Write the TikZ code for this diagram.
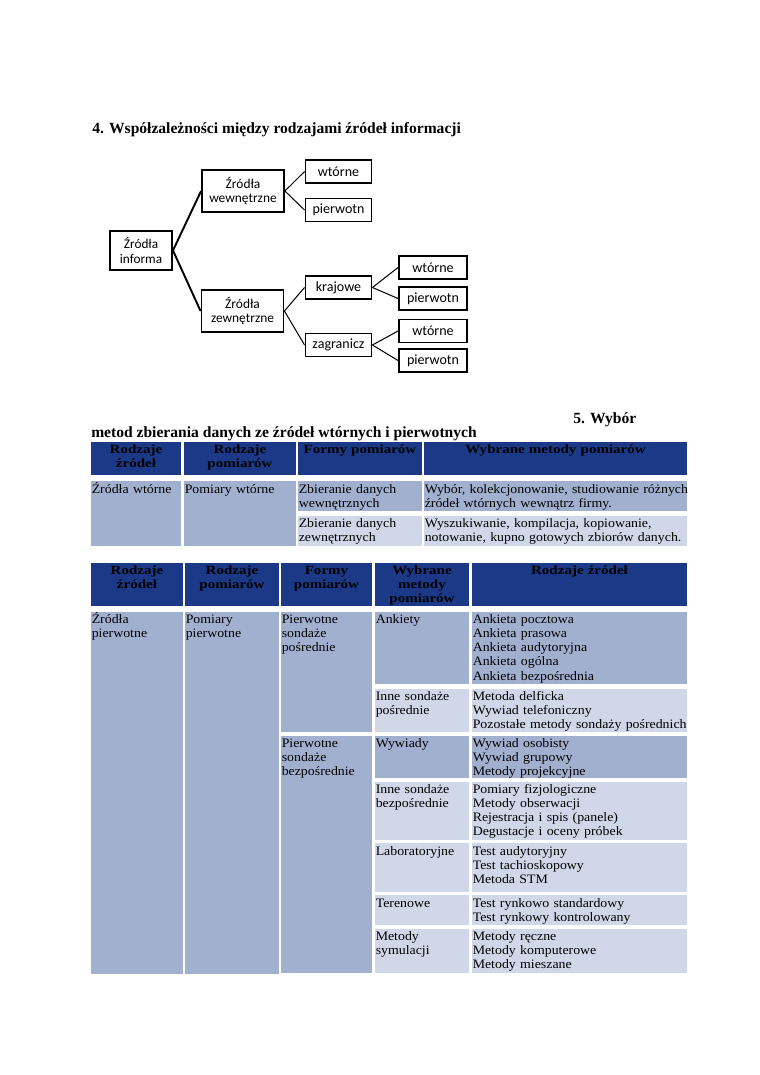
\documentclass[tikz,border=0pt]{standalone}
\usepackage{fontspec}
\setmainfont{Liberation Serif}
\newfontfamily\tabfont[FakeStretch=1.075]{Liberation Serif}
\newfontfamily\hdfont[FakeStretch=1.2]{Liberation Serif}
\newfontfamily\boxfont{Carlito}
\usepackage{tikz}

\definecolor{hdblue}{RGB}{27,57,135}
\definecolor{midblue}{RGB}{162,176,208}
\definecolor{lightblue}{RGB}{208,215,232}

\begin{document}
\begin{tikzpicture}[x=0.7833pt, y=-0.7833pt,
    box/.style={draw, line width=1.5pt, inner sep=0pt, align=center,
        font=\boxfont\fontsize{11}{12}\selectfont},
    bigbox/.style={box, minimum width=64.2pt, minimum height=32.9pt,
        font=\boxfont\fontsize{10.5}{11.7}\selectfont},
    smallbox/.style={box, minimum width=51.7pt, minimum height=18pt},
    title/.style={anchor=base west, inner sep=0pt,
        font=\bfseries\fontsize{12.2}{14}\selectfont},
    celltext/.style={anchor=base west, inner sep=0pt, align=left, text width=300pt,
        font=\tabfont\fontsize{10.1}{11.2}\selectfont},
    headtext/.style={anchor=base, inner sep=0pt, align=center, text width=200pt,
        font=\hdfont\bfseries\fontsize{9.8}{11.3}\selectfont}]
    \useasboundingbox (0,0) rectangle (760,1075);

    % Tree of sources
    \node[title] (t4) at (92,133) {4. Współzależności między rodzajami źródeł informacji};

    \node[box, minimum width=48.6pt, minimum height=30.5pt,
        font=\boxfont\fontsize{10.4}{12}\selectfont] (inf) at (141,250.5) {Źródła\\informa};
    \node[bigbox] (wew) at (243,191) {Źródła\\wewnętrzne};
    \node[bigbox] (zew) at (242.5,311) {Źródła\\zewnętrzne};
    \node[smallbox] (wew-w) at (338.5,171.5) {wtórne};
    \node[smallbox] (wew-p) at (338.5,210) {pierwotn};
    \node[smallbox] (kra) at (338.5,287.5) {krajowe};
    \node[smallbox] (zag) at (338.5,345) {zagranicz};
    \node[smallbox, minimum width=53.3pt] (kra-w) at (433,267.5) {wtórne};
    \node[smallbox, minimum width=53.3pt] (kra-p) at (433,298.5) {pierwotn};
    \node[smallbox, minimum width=53.3pt] (zag-w) at (433,331) {wtórne};
    \node[smallbox, minimum width=53.3pt] (zag-p) at (433,360.5) {pierwotn};

    % Connectors
    \draw[line width=1.5pt] (inf.east) -- (wew.west);
    \draw[line width=1.5pt] (inf.east) -- (zew.west);
    \draw[line width=0.8pt] (wew.east) -- (wew-w.west);
    \draw[line width=0.8pt] (wew.east) -- (wew-p.west);
    \draw[line width=0.8pt] (zew.east) -- (kra.west);
    \draw[line width=0.8pt] (zew.east) -- (zag.west);
    \draw[line width=0.8pt] (kra.east) -- (kra-w.west);
    \draw[line width=0.8pt] (kra.east) -- (kra-p.west);
    \draw[line width=0.8pt] (zag.east) -- (zag-w.west);
    \draw[line width=0.8pt] (zag.east) -- (zag-p.west);

    % Table of secondary sources
    \node[title] (t5) at (573,423) {5. Wybór};
    \node[title] (t5b) at (91,437) {metod zbierania danych ze źródeł wtórnych i pierwotnych};

    \fill[hdblue] (91,442) rectangle (181,475);
    \fill[hdblue] (184,442) rectangle (296,475);
    \fill[hdblue] (298,442) rectangle (422,475);
    \fill[hdblue] (424,442) rectangle (687,475);
    \node[headtext] (a-h1) at (136,453) {Rodzaje\\źródeł};
    \node[headtext] (a-h2) at (240,453) {Rodzaje\\pomiarów};
    \node[headtext] (a-h3) at (360,453) {Formy pomiarów};
    \node[headtext] (a-h4) at (555.5,453) {Wybrane metody pomiarów};

    \fill[midblue] (91,481) rectangle (181,546);
    \fill[midblue] (184,481) rectangle (296,546);
    \fill[midblue] (298,481) rectangle (422,511);
    \fill[midblue] (424,481) rectangle (687,511);
    \fill[lightblue] (298,516) rectangle (422,546);
    \fill[lightblue] (424,516) rectangle (687,546);
    \node[celltext] (a-1) at (91.5,493) {Źródła wtórne};
    \node[celltext] (a-2) at (184.5,493) {Pomiary wtórne};
    \node[celltext] (a-3) at (298.5,493) {Zbieranie danych\\wewnętrznych};
    \node[celltext] (a-4) at (424.5,493) {Wybór, kolekcjonowanie, studiowanie różnych\\źródeł wtórnych wewnątrz firmy.};
    \node[celltext] (a-5) at (298.5,527.5) {Zbieranie danych\\zewnętrznych};
    \node[celltext] (a-6) at (424.5,527.5) {Wyszukiwanie, kompilacja, kopiowanie,\\notowanie, kupno gotowych zbiorów danych.};

    % Table of primary sources
    \fill[hdblue] (91,563) rectangle (183,606);
    \fill[hdblue] (185,563) rectangle (279,606);
    \fill[hdblue] (281,563) rectangle (372,606);
    \fill[hdblue] (375,563) rectangle (469,606);
    \fill[hdblue] (472,563) rectangle (687,606);
    \node[headtext] (b-h1) at (137,574) {Rodzaje\\źródeł};
    \node[headtext] (b-h2) at (232,574) {Rodzaje\\pomiarów};
    \node[headtext] (b-h3) at (326.5,574) {Formy\\pomiarów};
    \node[headtext] (b-h4) at (422,574) {Wybrane\\metody\\pomiarów};
    \node[headtext] (b-h5) at (579.5,574) {Rodzaje źródeł};

    \fill[midblue] (91,612) rectangle (183,974);
    \fill[midblue] (185,612) rectangle (279,974);
    \fill[midblue] (281,612) rectangle (372,732);
    \fill[midblue] (281,736) rectangle (372,973);
    \node[celltext] (b-1) at (91.5,623) {Źródła\\pierwotne};
    \node[celltext] (b-2) at (185.5,623) {Pomiary\\pierwotne};
    \node[celltext] (b-3) at (281.5,623) {Pierwotne\\sondaże\\pośrednie};
    \node[celltext] (b-4) at (281.5,747) {Pierwotne\\sondaże\\bezpośrednie};

    \fill[midblue] (375,612) rectangle (469,684);
    \fill[midblue] (472,612) rectangle (687,684);
    \fill[lightblue] (375,689) rectangle (469,732);
    \fill[lightblue] (472,689) rectangle (687,732);
    \fill[midblue] (375,736) rectangle (469,778);
    \fill[midblue] (472,736) rectangle (687,778);
    \fill[lightblue] (375,782) rectangle (469,840);
    \fill[lightblue] (472,782) rectangle (687,840);
    \fill[lightblue] (375,843) rectangle (469,892);
    \fill[lightblue] (472,843) rectangle (687,892);
    \fill[lightblue] (375,895) rectangle (469,925);
    \fill[lightblue] (472,895) rectangle (687,925);
    \fill[lightblue] (375,929) rectangle (469,973);
    \fill[lightblue] (472,929) rectangle (687,973);

    \node[celltext] (m-1) at (375.5,623) {Ankiety};
    \node[celltext] (r-1) at (472.5,623) {Ankieta pocztowa\\Ankieta prasowa\\Ankieta audytoryjna\\Ankieta ogólna\\Ankieta bezpośrednia};
    \node[celltext] (m-2) at (375.5,700) {Inne sondaże\\pośrednie};
    \node[celltext] (r-2) at (472.5,700) {Metoda delficka\\Wywiad telefoniczny\\Pozostałe metody sondaży pośrednich};
    \node[celltext] (m-3) at (375.5,747) {Wywiady};
    \node[celltext] (r-3) at (472.5,747) {Wywiad osobisty\\Wywiad grupowy\\Metody projekcyjne};
    \node[celltext] (m-4) at (375.5,793) {Inne sondaże\\bezpośrednie};
    \node[celltext] (r-4) at (472.5,793) {Pomiary fizjologiczne\\Metody obserwacji\\Rejestracja i spis (panele)\\Degustacje i oceny próbek};
    \node[celltext] (m-5) at (375.5,855) {Laboratoryjne};
    \node[celltext] (r-5) at (472.5,855) {Test audytoryjny\\Test tachioskopowy\\Metoda STM};
    \node[celltext] (m-6) at (375.5,907) {Terenowe};
    \node[celltext] (r-6) at (472.5,907) {Test rynkowo standardowy\\Test rynkowy kontrolowany};
    \node[celltext] (m-7) at (375.5,940) {Metody\\symulacji};
    \node[celltext] (r-7) at (472.5,940) {Metody ręczne\\Metody komputerowe\\Metody mieszane};
\end{tikzpicture}
\end{document}
